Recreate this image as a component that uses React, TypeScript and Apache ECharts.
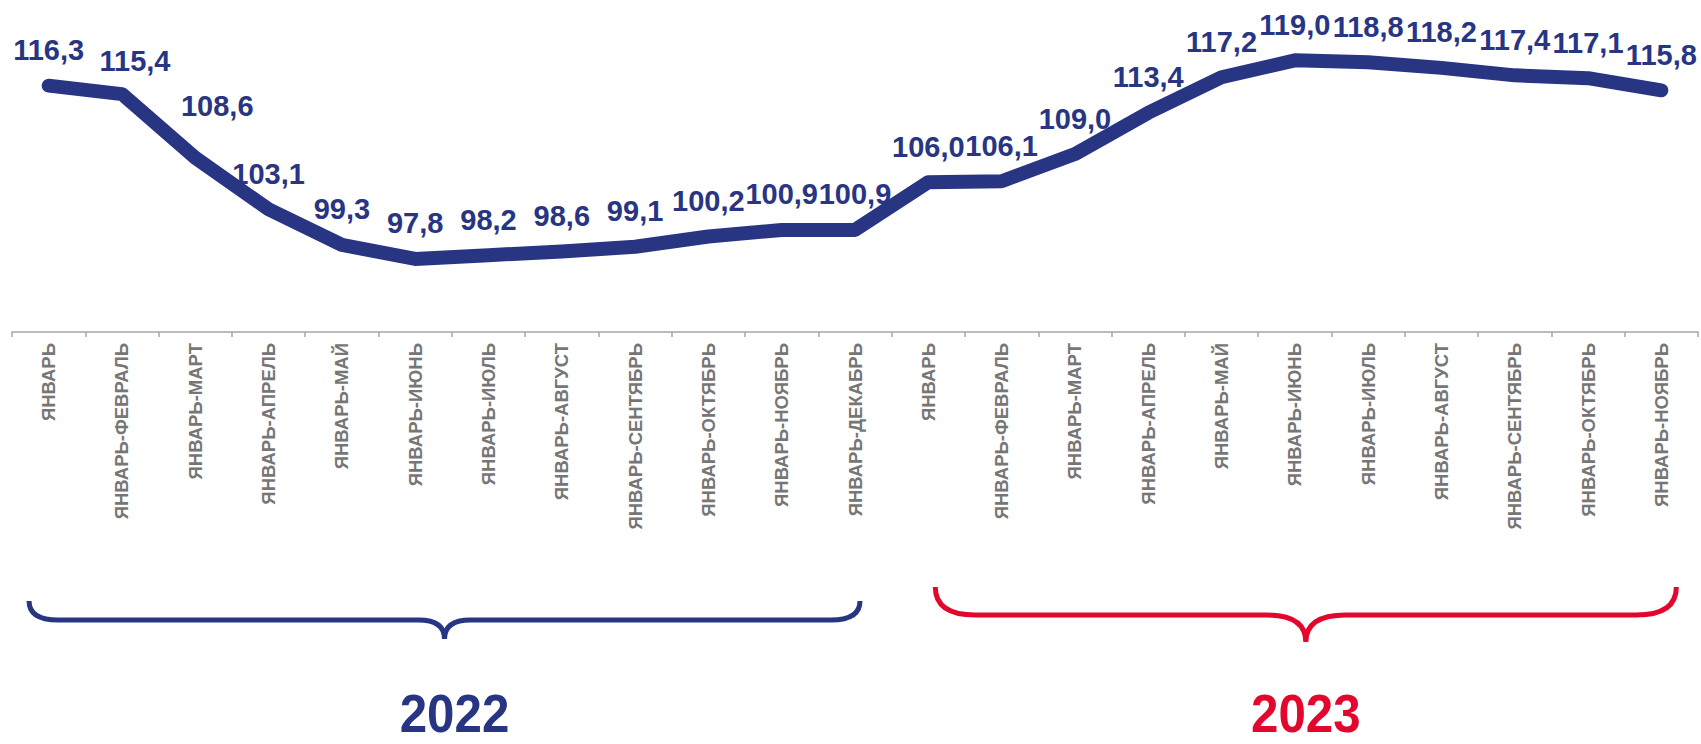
import React, { useEffect, useRef } from "react";
import * as echarts from "echarts";

const months2022: string[] = [
  "ЯНВАРЬ", "ЯНВАРЬ-ФЕВРАЛЬ", "ЯНВАРЬ-МАРТ", "ЯНВАРЬ-АПРЕЛЬ", "ЯНВАРЬ-МАЙ", "ЯНВАРЬ-ИЮНЬ",
  "ЯНВАРЬ-ИЮЛЬ", "ЯНВАРЬ-АВГУСТ", "ЯНВАРЬ-СЕНТЯБРЬ", "ЯНВАРЬ-ОКТЯБРЬ", "ЯНВАРЬ-НОЯБРЬ", "ЯНВАРЬ-ДЕКАБРЬ",
];
const months2023: string[] = [
  "ЯНВАРЬ", "ЯНВАРЬ-ФЕВРАЛЬ", "ЯНВАРЬ-МАРТ", "ЯНВАРЬ-АПРЕЛЬ", "ЯНВАРЬ-МАЙ", "ЯНВАРЬ-ИЮНЬ",
  "ЯНВАРЬ-ИЮЛЬ", "ЯНВАРЬ-АВГУСТ", "ЯНВАРЬ-СЕНТЯБРЬ", "ЯНВАРЬ-ОКТЯБРЬ", "ЯНВАРЬ-НОЯБРЬ",
];
const values2022: number[] = [116.3, 115.4, 108.6, 103.1, 99.3, 97.8, 98.2, 98.6, 99.1, 100.2, 100.9, 100.9];
const values2023: number[] = [106.0, 106.1, 109.0, 113.4, 117.2, 119.0, 118.8, 118.2, 117.4, 117.1, 115.8];
const yearLabels: string[] = ["2022", "2023"];

const NAVY = "#283583";
const RED = "#E3062D";
const BOLD_FONT = "Arial, 'Liberation Sans', sans-serif";

function bracePath(x1: number, x2: number, yTop: number, yLine: number, yTip: number, r: number, m: number): string {
  const xm = (x1 + x2) / 2;
  return (
    `M ${x1} ${yTop} Q ${x1} ${yLine} ${x1 + r} ${yLine} L ${xm - m} ${yLine} Q ${xm} ${yLine} ${xm} ${yTip} ` +
    `M ${xm} ${yTip} Q ${xm} ${yLine} ${xm + m} ${yLine} L ${x2 - r} ${yLine} Q ${x2} ${yLine} ${x2} ${yTop}`
  );
}

export default function App() {
  const ref = useRef<HTMLDivElement>(null);

  useEffect(() => {
    if (!ref.current) return;
    const chart = echarts.init(ref.current, null, { renderer: "svg" });
    const categories = [...months2022, ...months2023];
    const values = [...values2022, ...values2023];

    chart.setOption({
      animation: false,
      backgroundColor: "#ffffff",
      grid: { left: 12, right: 3, top: 51, bottom: 412, containLabel: false },
      xAxis: {
        type: "category",
        data: categories,
        boundaryGap: true,
        axisLine: { show: true, lineStyle: { color: "#a6a6a6", width: 1.5 } },
        axisTick: { show: true, length: 5, lineStyle: { color: "#a6a6a6", width: 1.5 } },
        axisLabel: {
          interval: 0,
          rotate: 90,
          margin: 11,
          fontSize: 18.5,
          fontWeight: "bold",
          color: "#767676",
          fontFamily: BOLD_FONT,
        },
        splitLine: { show: false },
      },
      yAxis: {
        type: "value",
        min: 90,
        max: 120,
        show: false,
        splitLine: { show: false },
      },
      series: [
        {
          type: "line",
          data: values,
          symbol: "circle",
          symbolSize: 2,
          showSymbol: true,
          showAllSymbol: true,
          clip: false,
          itemStyle: { color: NAVY },
          smooth: false,
          lineStyle: { color: NAVY, width: 14, cap: "round", join: "round" },
          label: {
            show: true,
            position: "top",
            distance: 20,
            fontSize: 29,
            fontWeight: "bold",
            color: NAVY,
            fontFamily: BOLD_FONT,
            formatter: (p: any) => Number(p.value).toFixed(1).replace(".", ","),
          },
          labelLayout: (params: any) => {
            if (params.dataIndex === 1) return { dx: 13, dy: 2, hideOverlap: false };
            if (params.dataIndex === 2) return { dx: 22, dy: -16, hideOverlap: false };
            return { hideOverlap: false };
          },
        },
      ],
    });

    const px = (i: number) => chart.convertToPixel({ xAxisIndex: 0 }, i) as number;
    const n22 = months2022.length;
    const n23 = months2023.length;

    const b1x1 = px(0) - 19.6;
    const b1x2 = px(n22 - 1) + 5;
    const b2x1 = px(n22) + 7;
    const b2x2 = px(n22 + n23 - 1) + 15;

    echarts.graphic.registerShape(
      "brace2022",
      echarts.graphic.extendPath(bracePath(b1x1, b1x2, 601, 620, 639, 29, 26), {})
    );
    echarts.graphic.registerShape(
      "brace2023",
      echarts.graphic.extendPath(bracePath(b2x1, b2x2, 587, 615, 642, 40, 40), {})
    );

    const yearStyle = (text: string, fill: string) => ({
      text,
      fill,
      fontSize: 53,
      lineHeight: 42,
      fontWeight: "bold",
      fontFamily: BOLD_FONT,
      textAlign: "center",
      textVerticalAlign: "middle",
    });

    chart.setOption({
      graphic: [
        {
          type: "brace2022",
          x: 0,
          y: 0,
          style: { fill: "none", stroke: NAVY, lineWidth: 5 },
        },
        {
          type: "brace2023",
          x: 0,
          y: 0,
          style: { fill: "none", stroke: RED, lineWidth: 5 },
        },
        {
          type: "text",
          x: (b1x1 + b1x2) / 2 + 10,
          y: 714,
          scaleX: 0.93,
          style: yearStyle(yearLabels[0], NAVY),
        },
        {
          type: "text",
          x: (b2x1 + b2x2) / 2,
          y: 714,
          scaleX: 0.93,
          style: yearStyle(yearLabels[1], RED),
        },
      ],
    });

    return () => {
      chart.dispose();
    };
  }, []);

  return (
    <div
      ref={ref}
      style={{ position: "fixed", left: 0, top: 0, width: 1701, height: 744, background: "#fff" }}
    />
  );
}
